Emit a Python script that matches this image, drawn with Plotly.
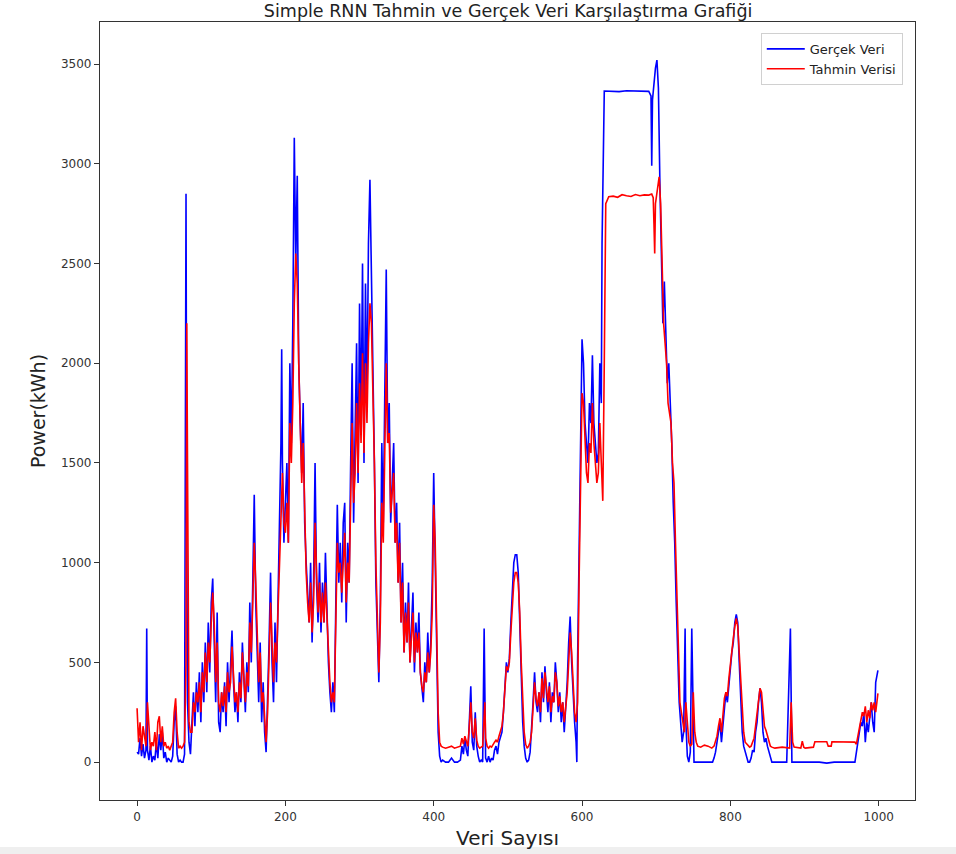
import plotly.graph_objects as go

# Gerçek veri (actual consumption), sample index -> kWh
gercek_x = [
    0, 2, 4, 6, 8, 10, 12, 13, 14, 16, 18, 20, 22, 24, 26, 28, 30, 32, 34, 36,
    38, 40, 42, 44, 46, 48, 50, 52, 54, 56, 58, 60, 62, 64, 65, 66, 67, 68, 70, 72,
    74, 76, 78, 80, 82, 84, 86, 88, 90, 92, 94, 96, 98, 100, 102, 104, 106, 108, 110, 112,
    114, 116, 118, 120, 122, 124, 126, 128, 130, 132, 134, 136, 138, 140, 142, 144, 146, 148, 150, 152,
    154, 156, 158, 160, 162, 164, 166, 168, 170, 172, 174, 176, 178, 180, 182, 184, 186, 188, 190, 192,
    194, 195, 196, 198, 200, 202, 204, 206, 208, 210, 212, 214, 216, 218, 220, 222, 224, 226, 228, 230,
    232, 234, 236, 238, 240, 242, 244, 246, 248, 250, 252, 254, 256, 258, 260, 262, 264, 266, 268, 270,
    272, 274, 276, 278, 280, 282, 284, 286, 288, 290, 292, 294, 296, 298, 300, 302, 304, 306, 308, 310,
    312, 314, 316, 318, 320, 322, 324, 326, 328, 330, 332, 334, 336, 338, 340, 342, 344, 346, 348, 350,
    352, 354, 356, 358, 360, 362, 364, 366, 368, 370, 372, 374, 376, 378, 380, 382, 384, 386, 388, 390,
    392, 394, 396, 398, 400, 402, 404, 406, 408, 410, 412, 416, 420, 424, 428, 432, 436, 438, 440, 442,
    444, 446, 448, 450, 452, 454, 456, 458, 460, 462, 464, 466, 468, 469, 470, 472, 474, 476, 478, 480,
    482, 484, 486, 488, 490, 492, 494, 496, 498, 500, 502, 504, 506, 508, 510, 512, 514, 516, 518, 520,
    522, 524, 526, 528, 530, 532, 534, 536, 538, 540, 542, 544, 546, 548, 550, 552, 554, 556, 558, 560,
    562, 564, 566, 568, 570, 572, 574, 576, 578, 580, 582, 584, 586, 588, 590, 592, 593, 594, 596, 598,
    600, 602, 604, 606, 608, 610, 612, 614, 616, 618, 620, 622, 624, 626, 627, 630, 640, 650, 660, 670,
    680, 690, 693, 694, 695, 697, 699, 701, 703, 705, 707, 709, 711, 713, 715, 717, 719, 721, 723, 725,
    727, 729, 731, 733, 735, 737, 739, 740, 741, 742, 744, 746, 748, 750, 751, 752, 754, 760, 766, 772,
    776, 778, 780, 782, 784, 786, 788, 790, 792, 794, 796, 798, 800, 802, 804, 806, 808, 810, 812, 814,
    816, 818, 820, 822, 824, 826, 828, 830, 832, 834, 836, 838, 840, 842, 844, 846, 848, 850, 852, 854,
    856, 866, 876, 881, 882, 883, 890, 900, 910, 920, 930, 940, 950, 960, 968, 970, 972, 974, 976, 978,
    980, 982, 984, 986, 988, 990, 992, 994, 996, 998, 999,
]
gercek_y = [
    50, 40, 120, 30, 90, 20, 60, 670, 60, 10, 80, 0, 30, 10, 100, 20, 140, 60, 150, 20,
    50, 0, 20, 10, 0, 30, 200, 280, 40, 0, 10, 0, 0, 40, 1500, 2850, 1200, 300, 100, 40,
    200, 350, 180, 400, 250, 450, 200, 500, 300, 600, 350, 700, 450, 800, 920, 600, 300, 750, 200, 150,
    350, 250, 400, 180, 500, 300, 450, 660, 400, 250, 350, 200, 450, 300, 600, 380, 250, 500, 350, 800,
    500, 900, 1340, 800, 550, 300, 600, 200, 400, 150, 50, 300, 600, 950, 500, 300, 700, 400, 900, 1200,
    1600, 2070, 1500, 1100, 1300, 1500, 1100, 2000, 1600, 2200, 3130, 2500, 2940, 2000, 1700, 1450, 1800, 1200, 1000, 800,
    700, 1000, 600, 900, 1500, 900, 700, 1000, 650, 900, 700, 1050, 700, 500, 350, 250, 400, 250, 800, 1290,
    900, 1100, 800, 1200, 1300, 700, 1100, 900, 1500, 2000, 1200, 1600, 2100, 1400, 2300, 1700, 2500, 1500, 2400, 1800,
    2600, 2920, 2500, 2000, 1500, 900, 600, 400, 800, 1600, 1200, 2000, 2470, 1600, 1800, 1200, 1400, 1600, 1100, 1300,
    900, 1200, 700, 1000, 550, 800, 600, 900, 500, 700, 850, 450, 700, 550, 750, 450, 350, 300, 500, 400,
    650, 450, 600, 900, 1450, 1000, 400, 150, 30, 0, 10, 0, 0, 20, 0, 0, 10, 80, 40, 120,
    60, 30, 200, 380, 100, 60, 250, 80, 30, 0, 10, 0, 670, 100, 20, 0, 30, 0, 20, 10,
    60, 80, 40, 100, 120, 150, 250, 400, 500, 450, 520, 700, 900, 1000, 1040, 1040, 950, 700, 400, 200,
    80, 20, 0, 10, 50, 150, 300, 450, 300, 250, 350, 200, 450, 300, 480, 350, 250, 400, 200, 350,
    300, 500, 400, 250, 350, 200, 300, 150, 280, 400, 600, 730, 500, 300, 200, 100, 0, 500, 1000, 1700,
    2120, 2000, 1700, 1600, 1500, 1800, 1700, 2040, 1700, 1600, 1500, 1550, 2000, 1800, 2600, 3365, 3365, 3362, 3366, 3364,
    3365, 3363, 3340, 2990, 3320, 3420, 3480, 3520, 3380, 2900, 2500, 2200, 2410, 2100, 1900, 2000, 1800, 1600, 1300, 1100,
    800, 500, 300, 200, 100, 150, 670, 200, 80, 30, 0, 50, 670, 30, 0, 0, 0, 0, 0, 0,
    0, 20, 50, 100, 150, 200, 100, 200, 300, 350, 300, 400, 500, 550, 600, 700, 740, 700, 500, 300,
    150, 80, 50, 30, 0, 0, 20, 60, 50, 150, 200, 300, 370, 300, 150, 100, 120, 80, 50, 30,
    0, 0, 0, 670, 10, 0, 0, 0, 0, 0, -5, 0, 0, 0, 0, 50, 100, 150, 200, 180,
    250, 100, 200, 150, 250, 300, 200, 150, 400, 460, 460,
]

# Tahmin verisi (Simple RNN prediction)
tahmin_x = [
    0, 2, 4, 6, 8, 10, 12, 14, 16, 18, 20, 22, 24, 26, 28, 30, 32, 34, 36, 38,
    40, 42, 44, 46, 48, 50, 52, 54, 56, 58, 60, 62, 64, 66, 67, 68, 69, 70, 72, 74,
    76, 78, 80, 82, 84, 86, 88, 90, 92, 94, 96, 98, 100, 102, 104, 106, 108, 110, 112, 114,
    116, 118, 120, 122, 124, 126, 128, 130, 132, 134, 136, 138, 140, 142, 144, 146, 148, 150, 152, 154,
    156, 158, 160, 162, 164, 166, 168, 170, 172, 174, 176, 178, 180, 182, 184, 186, 188, 190, 192, 194,
    196, 198, 200, 202, 204, 206, 208, 210, 212, 214, 216, 218, 220, 222, 224, 226, 228, 230, 232, 234,
    236, 238, 240, 242, 244, 246, 248, 250, 252, 254, 256, 258, 260, 262, 264, 266, 268, 270, 272, 274,
    276, 278, 280, 282, 284, 286, 288, 290, 292, 294, 296, 298, 300, 302, 304, 306, 308, 310, 312, 314,
    316, 318, 320, 322, 324, 326, 328, 330, 332, 334, 336, 338, 340, 342, 344, 346, 348, 350, 352, 354,
    356, 358, 360, 362, 364, 366, 368, 370, 372, 374, 376, 378, 380, 382, 384, 386, 388, 390, 392, 394,
    396, 398, 400, 402, 404, 406, 408, 410, 412, 416, 420, 424, 428, 432, 436, 438, 440, 442, 444, 446,
    448, 450, 452, 454, 456, 458, 460, 462, 466, 468, 469, 470, 472, 474, 476, 478, 480, 482, 484, 486,
    488, 490, 492, 494, 496, 498, 500, 502, 504, 506, 508, 510, 512, 514, 516, 518, 520, 522, 524, 526,
    528, 530, 532, 534, 536, 538, 540, 542, 544, 546, 548, 550, 552, 554, 556, 558, 560, 562, 564, 566,
    568, 570, 572, 574, 576, 578, 580, 582, 584, 586, 588, 590, 592, 594, 596, 598, 600, 602, 604, 606,
    608, 610, 612, 614, 616, 618, 620, 622, 624, 626, 628, 630, 632, 636, 642, 648, 654, 660, 666, 672,
    678, 684, 690, 694, 696, 697, 698, 699, 701, 703, 704, 706, 708, 710, 712, 714, 716, 718, 720, 722,
    724, 726, 728, 730, 732, 734, 736, 738, 740, 742, 744, 746, 748, 750, 752, 754, 756, 760, 765, 770,
    775, 778, 780, 782, 784, 786, 788, 790, 792, 794, 796, 798, 800, 802, 804, 806, 808, 810, 812, 814,
    816, 818, 820, 822, 824, 826, 828, 830, 832, 834, 836, 838, 840, 842, 844, 846, 848, 850, 852, 854,
    856, 860, 870, 880, 882, 884, 886, 895, 897, 899, 901, 912, 914, 930, 932, 936, 937, 968, 970, 972,
    974, 976, 978, 980, 982, 984, 986, 988, 990, 992, 994, 996, 998, 999,
]
tahmin_y = [
    270, 100, 200, 60, 180, 120, 80, 300, 150, 60, 100, 80, 150, 60, 200, 230, 100, 180, 80, 100,
    70, 80, 60, 80, 100, 250, 320, 150, 70, 80, 70, 80, 100, 500, 2200, 1500, 600, 200, 150, 150,
    300, 250, 350, 300, 400, 250, 450, 350, 550, 400, 600, 500, 700, 850, 700, 400, 600, 300, 250, 350,
    280, 380, 250, 450, 350, 400, 580, 450, 300, 350, 250, 400, 320, 550, 400, 300, 450, 380, 700, 550,
    800, 1100, 900, 600, 400, 550, 300, 350, 200, 100, 250, 500, 800, 600, 400, 600, 500, 750, 1000, 1300,
    1450, 1200, 1150, 1300, 1100, 1700, 1500, 1800, 2300, 2550, 2400, 2000, 1700, 1400, 1600, 1200, 950, 800, 700, 900,
    650, 800, 1200, 950, 750, 900, 700, 850, 700, 900, 700, 550, 400, 300, 350, 300, 650, 1100, 950, 1000,
    850, 1050, 1150, 800, 1000, 900, 1300, 1700, 1300, 1450, 1800, 1450, 1900, 1600, 2050, 1550, 2000, 1700, 2100, 2300,
    2200, 1900, 1500, 1000, 700, 450, 700, 1300, 1100, 1700, 2000, 1600, 1650, 1250, 1350, 1450, 1100, 1200, 900, 1100,
    700, 900, 550, 750, 600, 800, 500, 650, 750, 500, 650, 550, 650, 450, 380, 350, 450, 400, 550, 450,
    550, 750, 1290, 1100, 550, 250, 100, 80, 75, 70, 75, 80, 70, 75, 80, 120, 90, 130, 100, 80,
    180, 300, 150, 120, 220, 110, 80, 70, 80, 200, 300, 120, 80, 70, 80, 75, 90, 100, 110, 100,
    130, 150, 180, 250, 380, 480, 460, 500, 650, 800, 900, 950, 950, 900, 750, 500, 280, 150, 90, 70,
    80, 100, 150, 280, 400, 320, 280, 350, 250, 420, 320, 450, 350, 300, 380, 250, 330, 300, 450, 400,
    280, 330, 250, 300, 200, 280, 350, 500, 650, 550, 350, 250, 200, 300, 900, 1500, 1850, 1800, 1600, 1450,
    1400, 1600, 1550, 1800, 1600, 1500, 1400, 1450, 1700, 1500, 1310, 2000, 2800, 2835, 2838, 2832, 2845, 2840, 2836, 2846,
    2840, 2844, 2843, 2848, 2830, 2700, 2550, 2800, 2860, 2900, 2935, 2800, 2500, 2200, 2100, 2000, 1800, 1750, 1700, 1500,
    1400, 1100, 800, 500, 300, 250, 200, 150, 300, 200, 100, 80, 90, 350, 150, 100, 80, 75, 85, 80,
    70, 80, 100, 130, 180, 220, 150, 250, 320, 350, 330, 420, 500, 550, 620, 680, 720, 680, 550, 400,
    250, 150, 100, 90, 80, 75, 80, 100, 120, 180, 250, 320, 370, 350, 250, 180, 160, 130, 100, 80,
    75, 70, 75, 70, 300, 100, 75, 70, 105, 75, 70, 75, 102, 102, 80, 80, 102, 100, 90, 130,
    170, 200, 250, 230, 280, 200, 260, 220, 300, 260, 300, 250, 340, 345,
]

y_ticks = [0, 500, 1000, 1500, 2000, 2500, 3000, 3500]
x_ticks = [0, 200, 400, 600, 800, 1000]

FONT = "DejaVu Sans"

fig = go.Figure()
fig.add_trace(go.Scatter(
    x=gercek_x, y=gercek_y, mode="lines", name="Gerçek Veri",
    line=dict(color="#0000ff", width=1.6),
))
fig.add_trace(go.Scatter(
    x=tahmin_x, y=tahmin_y, mode="lines", name="Tahmin Verisi",
    line=dict(color="#ff0000", width=1.6),
))

axis_common = dict(
    showgrid=False, zeroline=False, showline=True, mirror=True,
    linecolor="#333333", linewidth=1.2,
    ticks="outside", ticklen=5, tickwidth=1, tickcolor="#333333",
    tickfont=dict(family=FONT, size=12, color="#333333"),
    automargin=False,
)

fig.update_layout(
    width=956, height=854,
    margin=dict(l=100, r=41, t=22, b=54),
    paper_bgcolor="white", plot_bgcolor="white",
    title=dict(
        text="Simple RNN Tahmin ve Gerçek Veri Karşılaştırma Grafiği",
        x=0.5315, xanchor="center", y=0.987, yanchor="middle",
        font=dict(family=FONT, size=17.5, color="#222222"),
    ),
    xaxis=dict(
        range=[-50, 1049], tickvals=x_ticks,
        title=dict(text="Veri Sayısı", standoff=8,
                   font=dict(family=FONT, size=20, color="#222222")),
        **axis_common,
    ),
    yaxis=dict(
        range=[-190, 3711], tickvals=y_ticks,
        title=dict(text="Power(kWh)", standoff=10,
                   font=dict(family=FONT, size=19, color="#222222")),
        **axis_common,
    ),
    legend=dict(
        x=0.985, xanchor="right", y=0.986, yanchor="top",
        bgcolor="rgba(255,255,255,0.9)", bordercolor="#d0d0d0", borderwidth=1,
        font=dict(family=FONT, size=13, color="#222222"),
        itemwidth=38, tracegroupgap=0,
    ),
    showlegend=True,
    shapes=[
        # light grey band along the bottom edge of the page
        dict(type="rect", xref="paper", yref="paper",
             x0=-0.13, x1=1.06, y0=-0.0605, y1=-0.075,
             fillcolor="#efefef", line=dict(width=0), layer="below"),
    ],
)

fig.write_html("out.html")
